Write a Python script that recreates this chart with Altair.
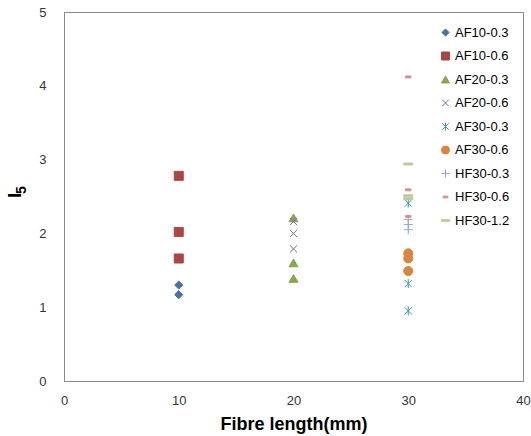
import altair as alt
import pandas as pd

series_names = ["AF10-0.3", "AF10-0.6", "AF20-0.3", "AF20-0.6", "AF30-0.3",
                "AF30-0.6", "HF30-0.3", "HF30-0.6", "HF30-1.2"]
fibre_length = [10, 10, 20, 20, 30, 30, 30, 30, 30]
i5_values = [
    [1.30, 1.17],
    [2.78, 2.02, 1.66],
    [2.21, 1.60, 1.39],
    [2.16, 2.00, 1.79],
    [2.41, 1.32, 0.95],
    [1.73, 1.66, 1.49],
    [2.19, 2.12, 2.05],
    [4.12, 2.59, 2.23],
    [2.94, 2.51, 2.47],
]
colors = ["#4572A7", "#AA4643", "#89A54E", "#80699B", "#3D96AE",
          "#DB843D", "#93A9CF", "#D19392", "#B9CD96"]
fills = ["#4572A7", "#AA4643", "#89A54E", "transparent", "transparent",
         "#DB843D", "transparent", "#D19392", "#B9CD96"]
shapes = [
    "M0,-0.9L0.9,0L0,0.9L-0.9,0Z",
    "square",
    "triangle-up",
    "M-0.8,-0.8L0.8,0.8M0.8,-0.8L-0.8,0.8",
    "M-0.8,-0.8L0.8,0.8M0.8,-0.8L-0.8,0.8M0,-1L0,1",
    "circle",
    "M-1,0H1M0,-1V1",
    "M-0.6,-0.22H0.6V0.22H-0.6Z",
    "M-1,-0.22H1V0.22H-1Z",
]
y_title_main = "I"
y_title_sub = "5"

rows = []
for name, x, vals in zip(series_names, fibre_length, i5_values):
    for v in vals:
        rows.append({"series": name, "length": x, "I5": v})
df = pd.DataFrame(rows)

legend = alt.Legend(
    title=None, orient="none", legendX=375, legendY=14, padding=0,
    labelFont="Liberation Sans", labelFontSize=13, labelColor="#000000",
    symbolSize=64, rowPadding=9.5, labelOffset=3, symbolStrokeWidth=1,
)

points = alt.Chart(df).mark_point(opacity=1, size=81, strokeWidth=1).encode(
    x=alt.X("length:Q", scale=alt.Scale(domain=[0, 40], nice=False),
            axis=alt.Axis(values=[0, 10, 20, 30, 40], title="Fibre length(mm)",
                          grid=False, ticks=False, tickSize=0,
                          domainColor="#898989", labelFont="Liberation Sans",
                          labelFontSize=13, labelColor="#333333", labelPadding=13,
                          labelFlush=False,
                          titleFont="Liberation Sans", titleFontSize=18,
                          titleFontWeight="bold", titleColor="#000000",
                          titleBaseline="alphabetic", titleY=48)),
    y=alt.Y("I5:Q", scale=alt.Scale(domain=[0, 5], nice=False),
            axis=alt.Axis(values=[0, 1, 2, 3, 4, 5], title=None,
                          grid=False, ticks=False, tickSize=0,
                          domainColor="#898989", labelFont="Liberation Sans",
                          labelFontSize=13, labelColor="#333333", labelPadding=18,
                          labelFlush=False)),
    stroke=alt.Stroke("series:N", scale=alt.Scale(domain=series_names, range=colors),
                      legend=legend),
    fill=alt.Fill("series:N", scale=alt.Scale(domain=series_names, range=fills),
                  legend=legend),
    shape=alt.Shape("series:N", scale=alt.Scale(domain=series_names, range=shapes),
                    legend=legend),
)

title_df = pd.DataFrame({"main": [y_title_main], "sub": [y_title_sub]})
title_main = alt.Chart(title_df).mark_text(
    angle=270, align="left", baseline="alphabetic", font="Liberation Sans",
    fontSize=19, fontWeight="bold", color="#000000",
).encode(text="main:N", x=alt.value(-43), y=alt.value(186))
title_sub = alt.Chart(title_df).mark_text(
    angle=270, align="left", baseline="alphabetic", font="Liberation Sans",
    fontSize=14, fontWeight="bold", color="#000000",
).encode(text="sub:N", x=alt.value(-38), y=alt.value(182))

chart = alt.layer(points, title_main, title_sub).properties(
    width=459, height=369,
    autosize=alt.AutoSizeParams(type="none"),
    padding={"left": 64, "top": 12, "right": 8, "bottom": 55},
).configure_view(stroke="#898989", strokeWidth=1)

chart.save("out.html", embed_options={"renderer": "svg", "actions": False})
